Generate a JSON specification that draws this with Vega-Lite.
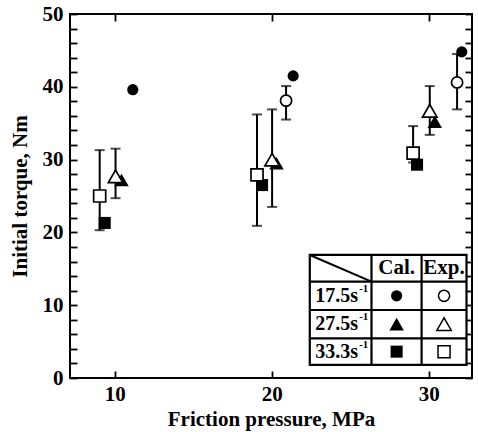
{
  "$schema": "https://vega.github.io/schema/vega-lite/v6.json",
  "width": 402,
  "height": 364,
  "autosize": "none",
  "padding": {"left": 70, "top": 14, "right": 6, "bottom": 54},
  "background": "white",
  "config": {
    "view": {"stroke": "black", "strokeWidth": 2},
    "font": "Liberation Serif",
    "axis": {
      "grid": false,
      "domain": false,
      "offset": -7,
      "tickColor": "black",
      "tickWidth": 1.8,
      "tickSize": 7,
      "labelColor": "black",
      "labelFont": "Liberation Serif",
      "labelFontWeight": "bold",
      "labelFontSize": 21,
      "titleColor": "black",
      "titleFont": "Liberation Serif",
      "titleFontWeight": "bold",
      "titleFontSize": 21
    }
  },
  "datasets": {
    "exp": [
      {"pressure": 9.04, "torque": 25.0, "lo": 20.3, "hi": 31.3, "rate": "33.3"},
      {"pressure": 10.05, "torque": 27.7, "lo": 24.7, "hi": 31.5, "rate": "27.5"},
      {"pressure": 19.06, "torque": 27.9, "lo": 20.9, "hi": 36.2, "rate": "33.3"},
      {"pressure": 20.02, "torque": 30.0, "lo": 23.5, "hi": 36.9, "rate": "27.5"},
      {"pressure": 20.91, "torque": 38.1, "lo": 35.5, "hi": 40.1, "rate": "17.5"},
      {"pressure": 29.0, "torque": 30.9, "lo": 29.6, "hi": 34.6, "rate": "33.3"},
      {"pressure": 30.06, "torque": 36.7, "lo": 33.4, "hi": 40.1, "rate": "27.5"},
      {"pressure": 31.8, "torque": 40.6, "lo": 36.9, "hi": 44.5, "rate": "17.5"}
    ],
    "cal": [
      {"pressure": 9.36, "torque": 21.3, "rate": "33.3"},
      {"pressure": 10.43, "torque": 27.2, "rate": "27.5"},
      {"pressure": 11.15, "torque": 39.6, "rate": "17.5"},
      {"pressure": 19.38, "torque": 26.5, "rate": "33.3"},
      {"pressure": 20.3, "torque": 29.5, "rate": "27.5"},
      {"pressure": 21.36, "torque": 41.5, "rate": "17.5"},
      {"pressure": 29.25, "torque": 29.3, "rate": "33.3"},
      {"pressure": 30.38, "torque": 35.2, "rate": "27.5"},
      {"pressure": 32.1, "torque": 44.8, "rate": "17.5"}
    ],
    "legendBox": [
      {"x": 22.42, "x2": 32.4, "y": 1.79, "y2": 16.9}
    ],
    "legendH": [
      {"y": 13.23, "x": 22.42, "x2": 32.4},
      {"y": 9.34, "x": 22.42, "x2": 32.4},
      {"y": 5.45, "x": 22.42, "x2": 32.4}
    ],
    "legendV": [
      {"x": 26.35, "y": 1.79, "y2": 16.9},
      {"x": 29.54, "y": 1.79, "y2": 16.9}
    ],
    "legendDiag": [
      {"x": 22.42, "y": 16.9, "x2": 26.35, "y2": 13.23}
    ],
    "legendSym": [
      {"rate": "17.5", "kind": "Cal", "x": 27.95, "y": 11.29},
      {"rate": "27.5", "kind": "Cal", "x": 27.95, "y": 7.4},
      {"rate": "33.3", "kind": "Cal", "x": 27.95, "y": 3.62},
      {"rate": "17.5", "kind": "Exp", "x": 30.97, "y": 11.29},
      {"rate": "27.5", "kind": "Exp", "x": 30.97, "y": 7.4},
      {"rate": "33.3", "kind": "Exp", "x": 30.97, "y": 3.62}
    ],
    "legendHead": [
      {"text": "Cal.", "x": 27.95, "y": 15.07},
      {"text": "Exp.", "x": 30.97, "y": 15.07}
    ],
    "legendRate": [
      {"text": "17.5s", "x": 25.5, "y": 11.29},
      {"text": "27.5s", "x": 25.5, "y": 7.4},
      {"text": "33.3s", "x": 25.5, "y": 3.62}
    ]
  },
  "layer": [
    {
      "data": {"name": "exp"},
      "mark": {"type": "rule", "color": "black", "strokeWidth": 2},
      "encoding": {
        "x": {"field": "pressure", "type": "quantitative",
          "scale": {"domain": [7.15, 32.75], "nice": false, "zero": false},
          "axis": {"orient": "bottom", "values": [10, 20, 30], "labelPadding": 5, "title": "Friction pressure, MPa", "titlePadding": 4}},
        "y": {"field": "lo", "type": "quantitative",
          "scale": {"domain": [0, 50], "nice": false},
          "axis": {"orient": "left", "values": [0,2,4,6,8,10,12,14,16,18,20,22,24,26,28,30,32,34,36,38,40,42,44,46,48,50],
            "labelExpr": "datum.value % 10 === 0 ? datum.label : ''", "labelPadding": 7, "title": "Initial torque, Nm", "titlePadding": 12}},
        "y2": {"field": "hi"}
      }
    },
    {
      "data": {"name": "exp"},
      "mark": {"type": "tick", "orient": "horizontal", "color": "black", "size": 10, "thickness": 2},
      "encoding": {
        "x": {"field": "pressure", "type": "quantitative",
          "axis": {"orient": "top", "values": [10, 20, 30], "labels": false, "title": null}},
        "y": {"field": "lo", "type": "quantitative",
          "axis": {"orient": "right", "values": [0,2,4,6,8,10,12,14,16,18,20,22,24,26,28,30,32,34,36,38,40,42,44,46,48,50], "labels": false, "title": null}}
      }
    },
    {
      "data": {"name": "exp"},
      "mark": {"type": "tick", "orient": "horizontal", "color": "black", "size": 10, "thickness": 2},
      "encoding": {
        "x": {"field": "pressure", "type": "quantitative", "axis": null},
        "y": {"field": "hi", "type": "quantitative", "axis": null}
      }
    },
    {
      "data": {"name": "cal"},
      "mark": {"type": "point", "filled": true, "color": "black", "opacity": 1},
      "encoding": {
        "x": {"field": "pressure", "type": "quantitative", "axis": null},
        "y": {"field": "torque", "type": "quantitative", "axis": null},
        "shape": {"field": "rate", "type": "nominal", "legend": null,
          "scale": {"domain": ["17.5", "27.5", "33.3"], "range": ["circle", "triangle-up", "square"]}},
        "size": {"field": "rate", "type": "nominal", "legend": null,
          "scale": {"type": "ordinal", "domain": ["17.5", "27.5", "33.3"], "range": [125, 210, 145]}}
      }
    },
    {
      "data": {"name": "exp"},
      "mark": {"type": "point", "filled": true, "fill": "white", "stroke": "black", "strokeWidth": 1.7, "opacity": 1},
      "encoding": {
        "x": {"field": "pressure", "type": "quantitative", "axis": null},
        "y": {"field": "torque", "type": "quantitative", "axis": null},
        "shape": {"field": "rate", "type": "nominal", "legend": null,
          "scale": {"domain": ["17.5", "27.5", "33.3"], "range": ["circle", "triangle-up", "square"]}},
        "size": {"field": "rate", "type": "nominal", "legend": null,
          "scale": {"type": "ordinal", "domain": ["17.5", "27.5", "33.3"], "range": [110, 180, 145]}}
      }
    },
    {
      "data": {"name": "legendBox"},
      "mark": {"type": "rect", "fill": "white", "stroke": "black", "strokeWidth": 2.2},
      "encoding": {
        "x": {"field": "x", "type": "quantitative", "axis": null},
        "x2": {"field": "x2"},
        "y": {"field": "y", "type": "quantitative", "axis": null},
        "y2": {"field": "y2"}
      }
    },
    {
      "data": {"name": "legendH"},
      "mark": {"type": "rule", "color": "black", "strokeWidth": 2.2},
      "encoding": {
        "x": {"field": "x", "type": "quantitative", "axis": null},
        "x2": {"field": "x2"},
        "y": {"field": "y", "type": "quantitative", "axis": null}
      }
    },
    {
      "data": {"name": "legendV"},
      "mark": {"type": "rule", "color": "black", "strokeWidth": 2.2},
      "encoding": {
        "x": {"field": "x", "type": "quantitative", "axis": null},
        "y": {"field": "y", "type": "quantitative", "axis": null},
        "y2": {"field": "y2"}
      }
    },
    {
      "data": {"name": "legendDiag"},
      "mark": {"type": "rule", "color": "black", "strokeWidth": 2},
      "encoding": {
        "x": {"field": "x", "type": "quantitative", "axis": null},
        "x2": {"field": "x2"},
        "y": {"field": "y", "type": "quantitative", "axis": null},
        "y2": {"field": "y2"}
      }
    },
    {
      "data": {"name": "legendSym"},
      "transform": [{"filter": "datum.kind === 'Cal'"}],
      "mark": {"type": "point", "filled": true, "color": "black", "opacity": 1},
      "encoding": {
        "x": {"field": "x", "type": "quantitative", "axis": null},
        "y": {"field": "y", "type": "quantitative", "axis": null},
        "shape": {"field": "rate", "type": "nominal", "legend": null,
          "scale": {"domain": ["17.5", "27.5", "33.3"], "range": ["circle", "triangle-up", "square"]}},
        "size": {"field": "rate", "type": "nominal", "legend": null,
          "scale": {"type": "ordinal", "domain": ["17.5", "27.5", "33.3"], "range": [95, 170, 120]}}
      }
    },
    {
      "data": {"name": "legendSym"},
      "transform": [{"filter": "datum.kind === 'Exp'"}],
      "mark": {"type": "point", "filled": true, "fill": "white", "stroke": "black", "strokeWidth": 1.5, "opacity": 1},
      "encoding": {
        "x": {"field": "x", "type": "quantitative", "axis": null},
        "y": {"field": "y", "type": "quantitative", "axis": null},
        "shape": {"field": "rate", "type": "nominal", "legend": null,
          "scale": {"domain": ["17.5", "27.5", "33.3"], "range": ["circle", "triangle-up", "square"]}},
        "size": {"field": "rate", "type": "nominal", "legend": null,
          "scale": {"type": "ordinal", "domain": ["17.5", "27.5", "33.3"], "range": [85, 170, 120]}}
      }
    },
    {
      "data": {"name": "legendHead"},
      "mark": {"type": "text", "font": "Liberation Serif", "fontWeight": "bold", "fontSize": 21, "color": "black", "baseline": "middle", "align": "center"},
      "encoding": {
        "x": {"field": "x", "type": "quantitative", "axis": null},
        "y": {"field": "y", "type": "quantitative", "axis": null},
        "text": {"field": "text"}
      }
    },
    {
      "data": {"name": "legendRate"},
      "mark": {"type": "text", "font": "Liberation Serif", "fontWeight": "bold", "fontSize": 20, "color": "black", "baseline": "middle", "align": "right"},
      "encoding": {
        "x": {"field": "x", "type": "quantitative", "axis": null},
        "y": {"field": "y", "type": "quantitative", "axis": null},
        "text": {"field": "text"}
      }
    },
    {
      "data": {"name": "legendRate"},
      "mark": {"type": "text", "font": "Liberation Serif", "fontWeight": "bold", "fontSize": 11, "color": "black", "baseline": "middle", "align": "left", "dx": 1, "dy": -7},
      "encoding": {
        "x": {"field": "x", "type": "quantitative", "axis": null},
        "y": {"field": "y", "type": "quantitative", "axis": null},
        "text": {"value": "-1"}
      }
    }
  ],
  "resolve": {"axis": {"x": "independent", "y": "independent"}}
}
